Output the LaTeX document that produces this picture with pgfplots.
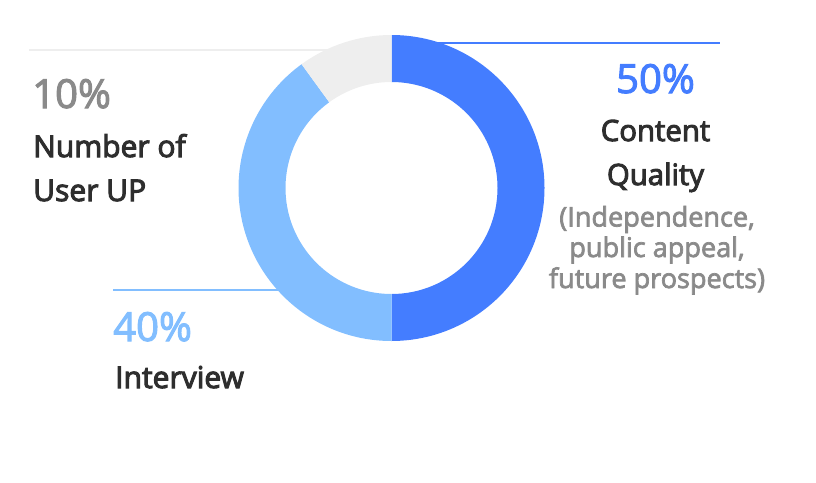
\documentclass[border=0pt]{standalone}
\usepackage{pgfplots}
\pgfplotsset{compat=1.18}
\usetikzlibrary{calc}
\usepackage{fontspec}
\setmainfont{Open Sans}
\newfontfamily\medfont{Open Sans}[FakeBold=2.6]
\newfontfamily\semfont{Open Sans}[FakeBold=3.4]
\definecolor{cblue}{HTML}{447DFF}
\definecolor{clight}{HTML}{82BEFF}
\definecolor{cgray}{HTML}{EEEEEE}
\definecolor{cdark}{HTML}{2E2E2E}
\definecolor{cmid}{HTML}{8A8A8A}
\begin{document}
\begin{tikzpicture}
\begin{axis}[
  width=612pt, height=361.5pt, scale only axis,
  xmin=0, xmax=816, ymin=0, ymax=482, y dir=reverse,
  hide axis, clip=false]
\path (axis cs:0,0) rectangle (axis cs:816,482);
% data: share of each criterion (percent)
\def\vA{50}\def\vB{40}\def\vC{10}
\pgfmathsetmacro\aA{90}
\pgfmathsetmacro\aB{\aA-3.6*\vA}
\pgfmathsetmacro\aC{\aB-3.6*\vB}
\pgfmathsetmacro\aD{\aC-3.6*\vC}
\def\Ro{114.75pt}\def\Ri{79.5pt}
% leader lines
\draw[cgray, line width=1.2pt] (axis cs:29,50) -- (axis cs:360,50);
\draw[cblue, line width=1.1pt] (axis cs:430,43) -- (axis cs:720,43);
\draw[clight, line width=1.1pt] (axis cs:113,290) -- (axis cs:330,290);
% donut
\coordinate (c) at (axis cs:391.5,188);
\fill[cblue] ($(c)+(\aA:\Ro)$) arc[start angle=\aA, end angle=\aB, radius=\Ro] -- ($(c)+(\aB:\Ri)$) arc[start angle=\aB, end angle=\aA, radius=\Ri] -- cycle;
\fill[clight] ($(c)+(\aB:\Ro)$) arc[start angle=\aB, end angle=\aC, radius=\Ro] -- ($(c)+(\aC:\Ri)$) arc[start angle=\aC, end angle=\aB, radius=\Ri] -- cycle;
\fill[cgray] ($(c)+(\aC:\Ro)$) arc[start angle=\aC, end angle=\aD, radius=\Ro] -- ($(c)+(\aD:\Ri)$) arc[start angle=\aD, end angle=\aC, radius=\Ri] -- cycle;
% labels
\node[anchor=base west, inner sep=0, text=cmid, font=\medfont\fontsize{30}{36}\selectfont] at (axis cs:32,108) {10\%};
\node[anchor=base west, inner sep=0, text=cdark, font=\semfont\fontsize{22.5}{28}\selectfont] at (axis cs:33,157) {Number of};
\node[anchor=base west, inner sep=0, text=cdark, font=\semfont\fontsize{22.5}{28}\selectfont] at (axis cs:33,201) {User UP};
\node[anchor=base, inner sep=0, text=cblue, font=\medfont\fontsize{30}{36}\selectfont] at (axis cs:655.5,93) {50\%};
\node[anchor=base, inner sep=0, text=cdark, font=\semfont\fontsize{22}{28}\selectfont] at (axis cs:655.5,141) {Content};
\node[anchor=base, inner sep=0, text=cdark, font=\semfont\fontsize{22}{28}\selectfont] at (axis cs:655.5,185) {Quality};
\node[anchor=base, inner sep=0, text=cmid, font=\medfont\fontsize{20.3}{24}\selectfont] at (axis cs:657,226.5) {(Independence,};
\node[anchor=base, inner sep=0, text=cmid, font=\medfont\fontsize{20.3}{24}\selectfont] at (axis cs:657,257) {public appeal,};
\node[anchor=base, inner sep=0, text=cmid, font=\medfont\fontsize{20.3}{24}\selectfont] at (axis cs:657,288) {future prospects)};
\node[anchor=base west, inner sep=0, text=clight, font=\medfont\fontsize{30}{36}\selectfont] at (axis cs:113,341) {40\%};
\node[anchor=base west, inner sep=0, text=cdark, font=\semfont\fontsize{22.5}{28}\selectfont] at (axis cs:115,388) {Interview};
\end{axis}
\end{tikzpicture}
\end{document}
